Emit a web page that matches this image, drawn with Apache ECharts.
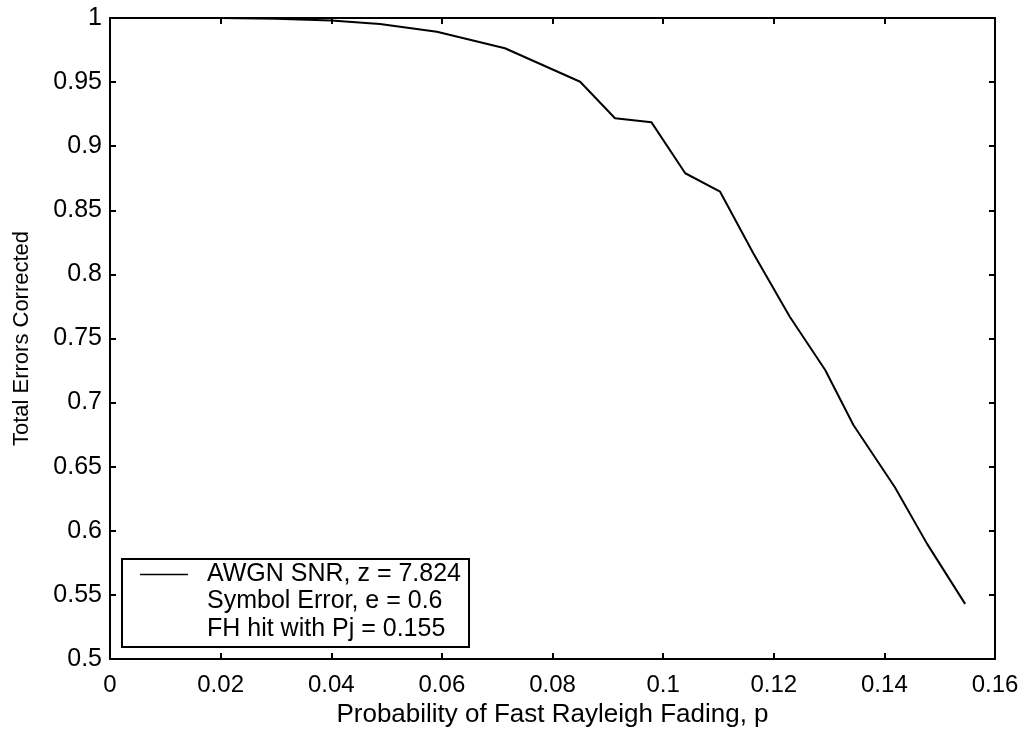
<!DOCTYPE html>
<html><head><meta charset="utf-8">
<script src="https://cdn.jsdelivr.net/npm/echarts@6/dist/echarts.min.js"></script>
<style>html,body{margin:0;padding:0;background:#fff}#c{width:1030px;height:736px}</style>
</head><body><div id="c"></div>
<script>
const pValues = [0, 0.01, 0.02, 0.03, 0.04, 0.0488, 0.0591, 0.0714, 0.085, 0.0913, 0.0979, 0.104, 0.1103, 0.1163, 0.1229, 0.1293, 0.1344, 0.1419, 0.1477, 0.1546];
const corrected = [1.0, 1.0, 1.0, 0.9995, 0.998, 0.9953, 0.9893, 0.9764, 0.9503, 0.9218, 0.9186, 0.8789, 0.8645, 0.8165, 0.767, 0.7254, 0.6825, 0.634, 0.590, 0.543];
const xTicks = [0, 0.02, 0.04, 0.06, 0.08, 0.1, 0.12, 0.14, 0.16];
const yTicks = [0.5, 0.55, 0.6, 0.65, 0.7, 0.75, 0.8, 0.85, 0.9, 0.95, 1];
const legendLines = ['AWGN SNR, z = 7.824', 'Symbol Error, e = 0.6', 'FH hit with Pj = 0.155'];

const FONT = 'Liberation Sans';
const fmt = v => String(parseFloat(v.toFixed(3)));
const chart = echarts.init(document.getElementById('c'), null, {renderer: 'canvas'});
const axisCommon = {
  type: 'value',
  axisLine: {show: true, onZero: false, lineStyle: {color: '#000', width: 2}},
  axisTick: {show: true, inside: true, length: 6, lineStyle: {color: '#000', width: 2}},
  splitLine: {show: false}
};
chart.setOption({
  animation: false,
  backgroundColor: '#fff',
  grid: {left: 110, right: 35, top: 18, bottom: 77},
  xAxis: [
    Object.assign({}, axisCommon, {
      min: xTicks[0], max: xTicks[xTicks.length - 1], interval: xTicks[1] - xTicks[0],
      name: 'Probability of Fast Rayleigh Fading, p', nameLocation: 'middle', nameGap: 42,
      nameTextStyle: {fontFamily: FONT, fontSize: 26, color: '#000', verticalAlign: 'top'},
      axisLabel: {margin: 14, fontFamily: FONT, fontSize: 24, color: '#000', formatter: fmt}
    }),
    Object.assign({}, axisCommon, {
      position: 'top', min: xTicks[0], max: xTicks[xTicks.length - 1], interval: xTicks[1] - xTicks[0],
      axisLabel: {show: false}
    })
  ],
  yAxis: [
    Object.assign({}, axisCommon, {
      min: yTicks[0], max: yTicks[yTicks.length - 1], interval: 0.05,
      name: 'Total Errors Corrected', nameLocation: 'middle', nameGap: 77,
      nameTextStyle: {fontFamily: FONT, fontSize: 22, color: '#000'},
      axisLabel: {margin: 8, fontFamily: FONT, fontSize: 25, color: '#000', formatter: fmt}
    }),
    Object.assign({}, axisCommon, {
      position: 'right', min: yTicks[0], max: yTicks[yTicks.length - 1], interval: 0.05,
      axisLabel: {show: false}
    })
  ],
  legend: {
    left: 122, top: 559,
    orient: 'vertical',
    padding: [3, 8, 60, 18],
    borderColor: '#000', borderWidth: 2,
    backgroundColor: '#fff',
    itemWidth: 48, itemHeight: 12, itemGap: 4,
    textStyle: {fontFamily: FONT, fontSize: 25, color: '#000', padding: [0, 0, 0, 14]},
    data: [{name: legendLines[0], icon: 'path://M0,5L48,5L48,6.5L0,6.5Z'}]
  },
  graphic: [
    {type: 'text', left: 207, top: 589, z: 100, style: {text: legendLines[1], font: '25px "' + FONT + '"', fill: '#000'}},
    {type: 'text', left: 207, top: 617, z: 100, style: {text: legendLines[2], font: '25px "' + FONT + '"', fill: '#000'}}
  ],
  series: [{
    name: legendLines[0],
    type: 'line',
    data: pValues.map((p, i) => [p, corrected[i]]),
    showSymbol: false,
    symbol: 'none',
    lineStyle: {color: '#000', width: 2},
    itemStyle: {color: '#000'}
  }]
});
</script></body></html>
